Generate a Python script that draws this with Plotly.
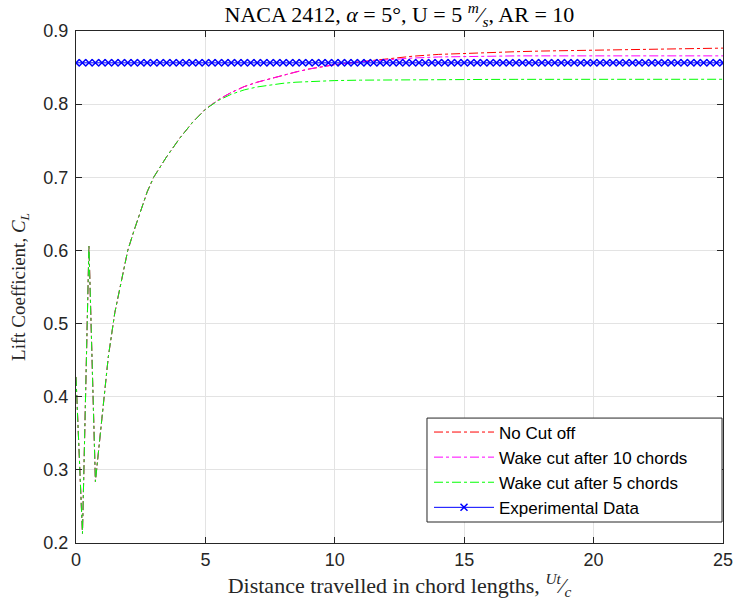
import numpy as np
import plotly.graph_objects as go

# ---- data ----
t_transient = [0, 0.25, 0.5, 0.75, 1.0, 1.25, 1.5, 1.75, 2.0, 2.25, 2.5, 2.75, 3.0,
               3.5, 4.0, 4.5, 5.0]
cl_transient = [0.427, 0.213, 0.606, 0.284, 0.370, 0.455, 0.515, 0.560, 0.600, 0.628,
                0.655, 0.680, 0.700, 0.728, 0.753, 0.775, 0.793]

t_mid = [5.5, 6.0, 6.5, 7.0, 7.5, 8.0, 8.5, 9.0, 9.5, 10.0]
cl_nocut_mid = [0.806, 0.816, 0.824, 0.830, 0.835, 0.8395, 0.844, 0.848, 0.851, 0.854]

t_late = [11, 12, 13, 14, 15, 16, 17, 18, 19, 20, 21, 22, 23, 24, 25]
cl_nocut_late = [0.858, 0.862, 0.8655, 0.868, 0.8695, 0.8707, 0.8717, 0.8726, 0.8733,
                 0.874, 0.8747, 0.8753, 0.8758, 0.8762, 0.8766]
cl_cut10_late = [0.858, 0.861, 0.863, 0.8645, 0.8653, 0.8657, 0.866, 0.866, 0.866,
                 0.866, 0.866, 0.866, 0.866, 0.866, 0.866]
cl_cut5_mid = [0.805, 0.8135, 0.8195, 0.8235, 0.8265, 0.8285, 0.830, 0.831, 0.8318, 0.8322]
cl_cut5_late = [0.8328, 0.8332, 0.8334, 0.8336, 0.8337, 0.8338, 0.8339, 0.834, 0.834,
                0.834, 0.834, 0.834, 0.834, 0.834, 0.834]

exp_t = list(np.arange(0, 25.001, 0.25))
exp_value = 0.8565
exp_cl = [exp_value] * len(exp_t)

series_names = ["No Cut off", "Wake cut after 10 chords", "Wake cut after 5 chords",
                "Experimental Data"]

t_full = t_transient + t_mid + t_late
cl_nocut = cl_transient + cl_nocut_mid + cl_nocut_late
cl_cut10 = cl_transient + cl_nocut_mid + cl_cut10_late
cl_cut5 = cl_transient + cl_cut5_mid + cl_cut5_late

fig = go.Figure()
fig.add_trace(go.Scatter(x=t_full, y=cl_nocut, mode="lines", name=series_names[0],
                         line=dict(color="#ff0000", width=1, dash="dashdot")))
fig.add_trace(go.Scatter(x=t_full, y=cl_cut10, mode="lines", name=series_names[1],
                         line=dict(color="#ff00ff", width=1, dash="dashdot")))
fig.add_trace(go.Scatter(x=t_full, y=cl_cut5, mode="lines", name=series_names[2],
                         line=dict(color="#00ff00", width=1, dash="dashdot")))
fig.add_trace(go.Scatter(x=exp_t, y=exp_cl, mode="lines+markers", name=series_names[3],
                         line=dict(color="#0000ff", width=1),
                         marker=dict(symbol="x-thin", size=7,
                                     line=dict(color="#0000ff", width=1.5))))

serif = "Liberation Serif, Times New Roman, serif"
sans = "Liberation Sans, Arial, sans-serif"
axis_common = dict(showgrid=True, gridcolor="#e3e3e3", gridwidth=1,
                   showline=True, linecolor="#262626", linewidth=1, mirror="ticks",
                   ticks="inside", ticklen=6, tickcolor="#262626",
                   tickfont=dict(family=sans, size=18, color="#262626"),
                   zeroline=False, automargin=False)

# legend frame (MATLAB-style box, wider than plotly's own)
legend_box = dict(x0=0.5425, x1=0.9985, y0=0.041, y1=0.244)

fig.add_shape(type="rect", xref="paper", yref="paper", layer="above",
              fillcolor="white", line=dict(color="#262626", width=1), **legend_box)

fig.update_layout(
    width=735, height=608,
    margin=dict(l=76, r=12, t=31, b=65),
    plot_bgcolor="white", paper_bgcolor="white",
    title=dict(text="NACA 2412, <i>α</i> = 5°, U = 5 <sup><i>m</i></sup>⁄<sub><i>s</i></sub>, AR = 10",
               x=0.5435, xanchor="center", y=0.976, yanchor="middle",
               font=dict(family=serif, size=22, color="black")),
    xaxis=dict(range=[0, 25], tickvals=[0, 5, 10, 15, 20, 25],
               title=dict(text="Distance travelled in chord lengths, <sup><i>Ut</i></sup>⁄<sub><i>c</i></sub>",
                          font=dict(family=serif, size=22, color="#262626"), standoff=2),
               **axis_common),
    yaxis=dict(range=[0.2, 0.9], tickvals=[0.2, 0.3, 0.4, 0.5, 0.6, 0.7, 0.8, 0.9],
               tickformat=".1f", ticklabelstandoff=3,
               title=dict(text="Lift Coefficient, <i>C<sub>L</sub></i>",
                          font=dict(family=serif, size=19, color="#262626"), standoff=12),
               **axis_common),
    legend=dict(x=0.5456, xanchor="left", y=0.1426, yanchor="middle",
                bgcolor="rgba(0,0,0,0)", borderwidth=0,
                font=dict(family=sans, size=17, color="black"),
                itemwidth=60),
    showlegend=True,
)

fig.write_html("out.html")
